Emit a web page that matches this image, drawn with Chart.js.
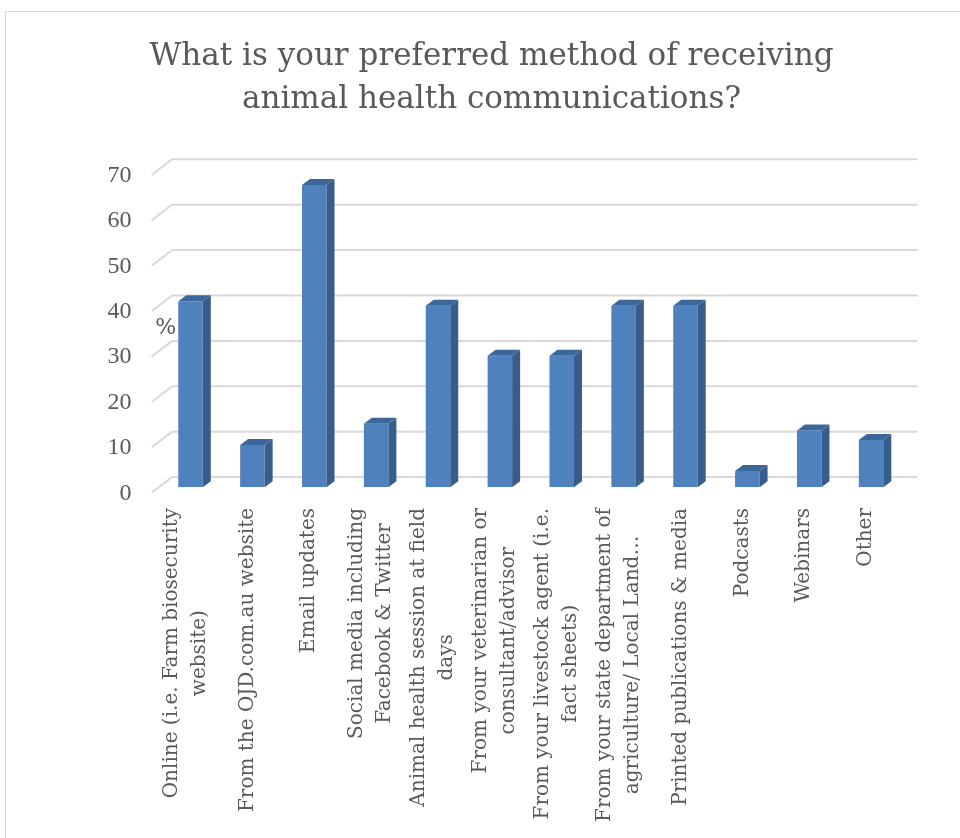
<!DOCTYPE html>
<html>
<head>
<meta charset="utf-8">
<script src="https://cdn.jsdelivr.net/npm/chart.js@4.4.1/dist/chart.umd.min.js"></script>
<style>
  html, body { margin: 0; padding: 0; background: #fff; overflow: hidden; }
  #frame { position: absolute; left: 5px; top: 11px; width: 1000px; height: 900px; border: 1px solid #d9d9d9; box-sizing: border-box; }
  #wrap { position: absolute; left: 0; top: 0; width: 960px; height: 838px; }
</style>
</head>
<body>
<div id="frame"></div>
<div id="wrap"><canvas id="myChart"></canvas></div>
<script>
// survey answers, % of respondents
const categories = [
    ['Online (i.e. Farm biosecurity', 'website)'],
    ['From the OJD.com.au website'],
    ['Email updates'],
    ['Social media including', 'Facebook & Twitter'],
    ['Animal health session at field', 'days'],
    ['From your veterinarian or', 'consultant/advisor'],
    ['From your livestock agent (i.e.', 'fact sheets)'],
    ['From your state department of', 'agriculture/ Local Land…'],
    ['Printed publications & media'],
    ['Podcasts'],
    ['Webinars'],
    ['Other']
];
const percentValues = [41, 9.3, 66.6, 14, 40, 29, 29, 40, 40, 3.6, 12.5, 10.4];
const yTicks = [0, 10, 20, 30, 40, 50, 60, 70];
const titleLines = ['What is your preferred method of receiving', 'animal health communications?'];
const yTitle = '%';

const textColor = '#595959';
const serif = "'DejaVu Serif', 'Liberation Serif', serif";
const tickSerif = "'Liberation Serif', serif";

// title drawn by hand so it can sit a bit right of centre like the original
const titlePlugin = {
    id: 'bigTitle',
    afterDraw(chart) {
        const { ctx } = chart;
        ctx.save();
        ctx.font = '31px ' + serif;
        ctx.fillStyle = textColor;
        ctx.textAlign = 'center';
        ctx.textBaseline = 'alphabetic';
        titleLines.forEach((s, i) => ctx.fillText(s, 491.5, 65 + i * 43));
        ctx.restore();
    }
};

// back wall gridlines with the little diagonal on the side wall
const wallPlugin = {
    id: 'wall',
    beforeDatasetsDraw(chart) {
        const { ctx, chartArea, scales } = chart;
        ctx.save();
        ctx.strokeStyle = '#d9d9d9';
        ctx.lineWidth = 2;
        yTicks.forEach(v => {
            const py = scales.y.getPixelForValue(v);
            ctx.beginPath();
            ctx.moveTo(chartArea.left - 8, py + 5.5);
            ctx.lineTo(chartArea.left + 12.5, py - 10.2);
            ctx.lineTo(chartArea.right + 15.7, py - 10.2);
            ctx.stroke();
        });
        ctx.restore();
    }
};

// side and top faces for the 3d look
const depthPlugin = {
    id: 'depth',
    afterDatasetsDraw(chart) {
        const { ctx } = chart;
        const dx = 8, dy = -6;
        ctx.save();
        chart.getDatasetMeta(0).data.forEach(bar => {
            const l = bar.x - bar.width / 2;
            const r = bar.x + bar.width / 2;
            ctx.fillStyle = '#385d8a';
            ctx.beginPath();
            ctx.moveTo(r, bar.y);
            ctx.lineTo(r + dx, bar.y + dy);
            ctx.lineTo(r + dx, bar.base + dy);
            ctx.lineTo(r, bar.base);
            ctx.closePath();
            ctx.fill();
            ctx.fillStyle = '#3c679b';
            ctx.beginPath();
            ctx.moveTo(l, bar.y);
            ctx.lineTo(l + dx, bar.y + dy);
            ctx.lineTo(r + dx, bar.y + dy);
            ctx.lineTo(r, bar.y);
            ctx.closePath();
            ctx.fill();
        });
        ctx.restore();
    }
};

// rotated category labels, lines centred on each other, top aligned under the axis
const labelPlugin = {
    id: 'labels',
    afterDraw(chart) {
        const { ctx, scales } = chart;
        const lh = 28;
        ctx.save();
        ctx.font = '20px ' + serif;
        ctx.fillStyle = textColor;
        ctx.textAlign = 'center';
        ctx.textBaseline = 'middle';
        categories.forEach((lines, i) => {
            const cx = scales.x.getPixelForTick(i) - 5;
            const w = Math.max(...lines.map(s => ctx.measureText(s).width));
            ctx.save();
            ctx.translate(cx, 508);
            ctx.rotate(-Math.PI / 2);
            lines.forEach((s, j) => {
                ctx.fillText(s, -w / 2, (j - (lines.length - 1) / 2) * lh);
            });
            ctx.restore();
        });
        // axis title sits flat beside the first bar
        ctx.font = '22px ' + serif;
        ctx.fillText(yTitle, chart.chartArea.left + 6, scales.y.getPixelForValue(35));
        ctx.restore();
    }
};

const ctx = document.getElementById('myChart').getContext('2d');
new Chart(ctx, {
    type: 'bar',
    data: {
        labels: categories,
        datasets: [{
            data: percentValues,
            backgroundColor: '#4f81bd',
            borderWidth: 0,
            barPercentage: 0.396,
            categoryPercentage: 1
        }]
    },
    options: {
        responsive: true,
        maintainAspectRatio: false,
        animation: false,
        layout: { padding: { top: 169.5, right: 58, bottom: 0, left: 0 } },
        plugins: {
            legend: { display: false },
            tooltip: { enabled: false },
            title: { display: false }
        },
        scales: {
            x: {
                grid: { display: false, drawTicks: false },
                border: { display: false },
                ticks: { display: false },
                afterFit: s => { s.height = 838 - 487.3; }
            },
            y: {
                min: 0,
                max: 70,
                grid: { display: false, drawTicks: false },
                border: { display: false },
                ticks: {
                    stepSize: 10,
                    padding: 28,
                    labelOffset: 6,
                    color: textColor,
                    font: { family: tickSerif, size: 24 }
                },
                afterFit: s => { s.width = 159.6; }
            }
        }
    },
    plugins: [wallPlugin, depthPlugin, labelPlugin, titlePlugin]
});
</script>
</body>
</html>
